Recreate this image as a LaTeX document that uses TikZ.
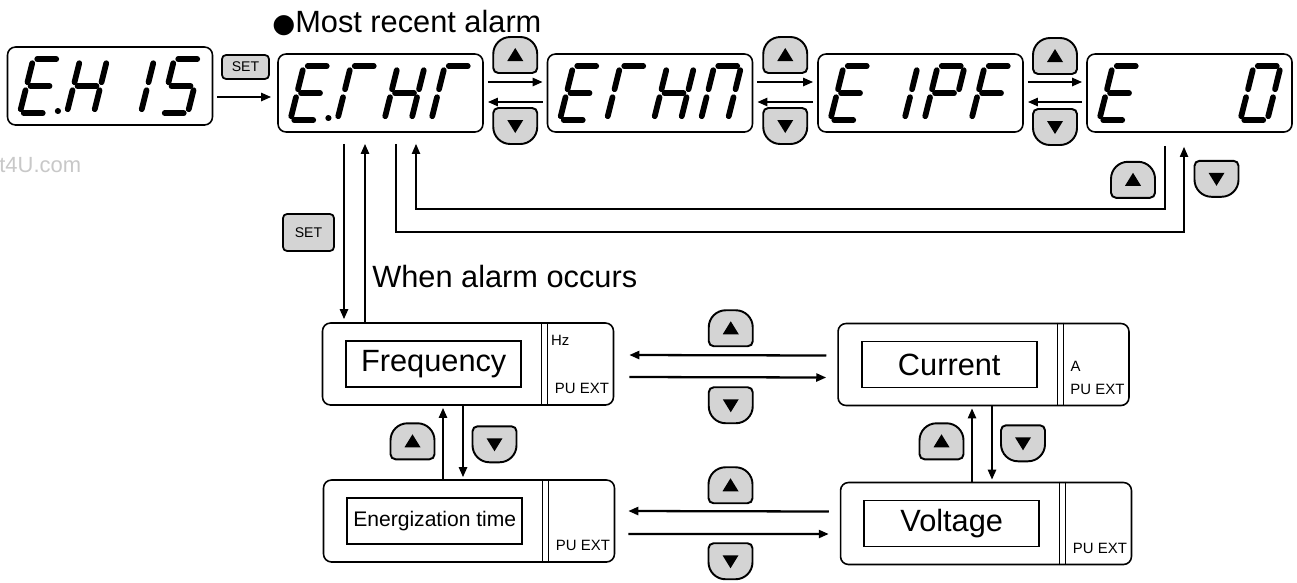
\documentclass[tikz,border=0pt]{standalone}
\usepackage{fontspec}
\setmainfont{Liberation Sans}
\newfontfamily\symfont{DejaVu Sans}
\usetikzlibrary{arrows.meta,calc}
\definecolor{ckey}{HTML}{D4D4D4}
\definecolor{cmark}{HTML}{C8C8C8}

% keys of the operation panel
\tikzset{
  keyline/.style={draw, fill=ckey, line width=1.1pt},
  upkey/.pic={
    \path[keyline] (-22,13) -- (-22,-1) arc[start angle=180, end angle=90, radius=0.34cm] -- (5,-18)
      arc[start angle=90, end angle=0, radius=0.34cm] -- (22,13) arc[start angle=0, end angle=-90, radius=0.1cm]
      -- (-17,18) arc[start angle=270, end angle=180, radius=0.1cm] -- cycle;
    \fill (-8,6) -- (8,6) -- (0,-7) -- cycle;
  },
  downkey/.pic={
    \path[keyline] (-22,-13) -- (-22,1) arc[start angle=180, end angle=270, radius=0.34cm] -- (5,18)
      arc[start angle=270, end angle=360, radius=0.34cm] -- (22,-13) arc[start angle=0, end angle=90, radius=0.1cm]
      -- (-17,-18) arc[start angle=90, end angle=180, radius=0.1cm] -- cycle;
    \fill (-8,-6) -- (8,-6) -- (0,7) -- cycle;
  }
}

% one digit of a seven-segment display: node, slot, segments
% (segment ends already slanted, 0.25 per unit of height)
\newcommand{\segdigit}[3]{%
  \begin{scope}[shift={($(#1.north west)+(13+47*#2,67)$)}]
    \coordinate (a1) at (17.5,-54); \coordinate (a2) at (36.5,-54);
    \coordinate (b1) at (39.5,-50); \coordinate (b2) at (34.8,-31);
    \coordinate (c1) at (32.8,-23); \coordinate (c2) at (28,-4);
    \coordinate (d1) at (4,0);      \coordinate (d2) at (23,0);
    \coordinate (e1) at (5.8,-23);  \coordinate (e2) at (1,-4);
    \coordinate (f1) at (12.5,-50); \coordinate (f2) at (7.8,-31);
    \coordinate (g1) at (10.8,-27); \coordinate (g2) at (29.8,-27);
    \coordinate (p1) at (38,-2);    \coordinate (p2) at (38.4,-2);
  \end{scope}
  \foreach \s in {#3} {\draw[segline] (\s1) -- (\s2);}
}

\begin{document}
\begin{tikzpicture}[
  x=0.02cm, y=-0.02cm,
  disp/.style={draw, line width=0.9pt, rounded corners=0.16cm, minimum width=4.1cm,
               minimum height=1.56cm, inner sep=0pt},
  mon/.style={draw, line width=0.9pt, rounded corners=0.16cm, minimum width=5.82cm,
              minimum height=1.64cm, inner sep=0pt},
  monin/.style={draw, line width=0.9pt, minimum width=3.5cm, minimum height=0.92cm,
                inner sep=0pt, font=\fontsize{17.5}{20}\selectfont},
  unit/.style={inner sep=0pt, font=\fontsize{8.5}{10}\selectfont},
  setkey/.style={draw, fill=ckey, line width=1pt, rounded corners=0.08cm, inner sep=0pt,
                 font=\fontsize{8}{10}\selectfont},
  arr/.style={-{Triangle[length=0.2cm,width=0.16cm]}, line width=1.3pt},
  back/.style={-{Triangle[length=0.2cm,width=0.16cm]}, line width=1pt},
  lbl/.style={inner sep=0pt, font=\fontsize{17.5}{20}\selectfont},
  segline/.style={line width=0.115cm, line cap=round}
]
\useasboundingbox[fill=white] (0,0) rectangle (1297,582);

\node[inner sep=0pt, anchor=west, text=cmark, font=\fontsize{12.5}{14}\selectfont] (mark) at (-1,165) {t4U.com};

% Alarm history displays
\node[disp] (eh15) at (110,86) {};
\node[disp] (erhr) at (380.5,93) {};
\node[disp] (erhn) at (650,93) {};
\node[disp] (eipf) at (920.5,93) {};
\node[disp] (ezero) at (1189.5,93) {};

\segdigit{eh15}{0}{a,d,e,f,g,p}
\segdigit{eh15}{1}{b,c,e,f,g}
\segdigit{eh15}{2}{b,c}
\segdigit{eh15}{3}{a,c,d,f,g}
\segdigit{erhr}{0}{a,d,e,f,g,p}
\segdigit{erhr}{1}{a,e,f}
\segdigit{erhr}{2}{b,c,e,f,g}
\segdigit{erhr}{3}{a,e,f}
\segdigit{erhn}{0}{a,d,e,f,g}
\segdigit{erhn}{1}{a,e,f}
\segdigit{erhn}{2}{b,c,e,f,g}
\segdigit{erhn}{3}{a,b,c,e,f}
\segdigit{eipf}{0}{a,d,e,f,g}
\segdigit{eipf}{1}{b,c}
\segdigit{eipf}{2}{a,b,e,f,g}
\segdigit{eipf}{3}{a,e,f,g}
\segdigit{ezero}{0}{a,d,e,f,g}
\segdigit{ezero}{3}{a,b,c,d,e,f}

\node[lbl, anchor=base west] (recent) at (272,32) {{\symfont\fontsize{15}{20}\selectfont ●}Most recent alarm};

% SET into the history
\node[setkey, minimum width=0.94cm, minimum height=0.48cm] (setA) at (245.5,67) {SET};
\draw[arr] ($(eh15.east)+(4,11)$) -- ($(erhr.west)+(-6,4)$);

% Stepping through the history
\draw[arr] ($(erhr.east)+(4,-11)$) -- ($(erhn.west)+(-4,-11)$);
\draw[arr] ($(erhn.west)+(-4,9)$) -- ($(erhr.east)+(4,9)$);
\draw[arr] ($(erhn.east)+(4,-11)$) -- ($(eipf.west)+(-4,-11)$);
\draw[arr] ($(eipf.west)+(-4,9)$) -- ($(erhn.east)+(4,9)$);
\draw[arr] ($(eipf.east)+(4,-11)$) -- ($(ezero.west)+(-4,-11)$);
\draw[arr] ($(ezero.west)+(-4,9)$) -- ($(eipf.east)+(4,9)$);
\pic at ($(erhr.east)!0.5!(erhn.west)+(0,-38)$) {upkey};
\pic at ($(erhr.east)!0.5!(erhn.west)+(0,33)$) {downkey};
\pic at ($(erhn.east)!0.5!(eipf.west)+(0,-38)$) {upkey};
\pic at ($(erhn.east)!0.5!(eipf.west)+(0,33)$) {downkey};
\pic at ($(eipf.east)!0.5!(ezero.west)+(0,-37)$) {upkey};
\pic at ($(eipf.east)!0.5!(ezero.west)+(0,34)$) {downkey};

% Wrap-around
\draw[back] ($(erhr.south)+(15.5,11)$) -- ++(0,88) -| ($(ezero.south)+(-5.5,14)$);
\draw[back] ($(ezero.south)+(-24.5,13)$) -- ++(0,63) -| ($(erhr.south)+(35.5,11)$);
\pic at ($(ezero.south)+(-56.5,47)$) {upkey};
\pic at ($(ezero.south)+(27,46)$) {downkey};

% Monitor displays
\node[mon] (freq) at (468,364) {};
\node[mon] (curr) at (983.5,364.5) {};
\node[mon] (energ) at (469,521) {};
\node[mon] (volt) at (986,523.5) {};

\node[monin] (freqtxt) at ($(freq.west)+(112,0)$) {Frequency};
\node[monin] (currtxt) at ($(curr.west)+(112,0)$) {Current};
\node[monin, font=\fontsize{12}{14}\selectfont] (energtxt) at ($(energ.west)+(112,0)$) {Energization time};
\node[monin] (volttxt) at ($(volt.west)+(112,0)$) {Voltage};

\draw[line width=0.8pt] ($(freq.north west)+(220,0)$) -- ($(freq.south west)+(220,0)$);
\draw[line width=0.8pt] ($(freq.north west)+(226,0)$) -- ($(freq.south west)+(226,0)$);
\draw[line width=0.8pt] ($(curr.north west)+(220,0)$) -- ($(curr.south west)+(220,0)$);
\draw[line width=0.8pt] ($(curr.north west)+(226,0)$) -- ($(curr.south west)+(226,0)$);
\draw[line width=0.8pt] ($(energ.north west)+(220,0)$) -- ($(energ.south west)+(220,0)$);
\draw[line width=0.8pt] ($(energ.north west)+(226,0)$) -- ($(energ.south west)+(226,0)$);
\draw[line width=0.8pt] ($(volt.north west)+(220,0)$) -- ($(volt.south west)+(220,0)$);
\draw[line width=0.8pt] ($(volt.north west)+(226,0)$) -- ($(volt.south west)+(226,0)$);

\node[unit, anchor=west] (hz) at ($(freq.north west)+(229,18)$) {Hz};
\node[unit, anchor=west] (amp) at ($(curr.north west)+(233,44)$) {A};
\node[unit, anchor=east] (freqpu) at ($(freq.south east)+(-5,-17)$) {PU EXT};
\node[unit, anchor=east] (currpu) at ($(curr.south east)+(-5,-17)$) {PU EXT};
\node[unit, anchor=east] (energpu) at ($(energ.south east)+(-5,-17)$) {PU EXT};
\node[unit, anchor=east] (voltpu) at ($(volt.south east)+(-5,-17)$) {PU EXT};

% Into the monitor when an alarm occurs
\coordinate (s1) at ($(erhr.south)+(-36.5,11)$);
\coordinate (s2) at ($(erhr.south)+(-15.5,11)$);
\draw[arr, shorten >=0.06cm] (s1) -- (s1 |- freq.north);
\draw[arr] (s2 |- freq.north) -- (s2);
\node[setkey, minimum width=1.02cm, minimum height=0.74cm] (setB) at (308.5,232.5) {SET};
\node[lbl, anchor=base west] (occurs) at (372,287) {When alarm occurs};

% Monitor cycle
\draw[arr] ($(curr.west)+(-11,-9)$) -- ($(freq.east)+(15,-9)$);
\draw[arr] ($(freq.east)+(15,13)$) -- ($(curr.west)+(-11,13)$);
\pic at ($(freq.east)!0.5!(curr.west)+(5,-36)$) {upkey};
\pic at ($(freq.east)!0.5!(curr.west)+(5,41)$) {downkey};

\draw[arr] ($(volt.west)+(-11,-12)$) -- ($(energ.east)+(13,-10)$);
\draw[arr] ($(energ.east)+(13,13)$) -- ($(volt.west)+(-11,10.5)$);
\pic at ($(energ.east)!0.5!(volt.west)+(3,-37)$) {upkey};
\pic at ($(energ.east)!0.5!(volt.west)+(3,39)$) {downkey};

\coordinate (fe1) at ($(freq.south)+(-25,0)$);
\coordinate (fe2) at ($(freq.south)+(-5,0)$);
\draw[arr, shorten >=0.04cm] (energ.north -| fe1) -- (fe1);
\draw[arr, shorten >=0.04cm] (fe2) -- (energ.north -| fe2);
\pic at ($(freq.south)+(-55.5,35.5)$) {upkey};
\pic at ($(freq.south)+(26.5,38.5)$) {downkey};

\coordinate (cv1) at ($(curr.south)+(-11.5,0)$);
\coordinate (cv2) at ($(curr.south)+(8.5,0)$);
\draw[arr, shorten >=0.04cm] (volt.north -| cv1) -- (cv1);
\draw[arr, shorten >=0.04cm] (cv2) -- (volt.north -| cv2);
\pic at ($(curr.south)+(-42,35)$) {upkey};
\pic at ($(curr.south)+(39.5,37)$) {downkey};

\end{tikzpicture}
\end{document}
